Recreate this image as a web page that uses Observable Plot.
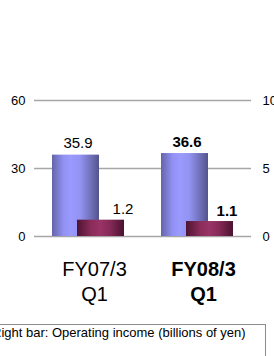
<!DOCTYPE html>
<html>
<head>
<meta charset="utf-8">
<script src="https://cdn.jsdelivr.net/npm/d3@7"></script>
<script src="https://cdn.jsdelivr.net/npm/@observablehq/plot@0.6"></script>
<style>
  html, body { margin: 0; padding: 0; background: #fff; overflow: hidden; width: 274px; height: 356px; }
  body { position: relative; font-family: "Liberation Sans", Arial, sans-serif; }
  #legend {
    position: absolute; left: -19px; top: 324px; width: 285px; height: 60px;
    box-sizing: border-box; border: 1px solid #8c8c8c; padding: 0 0 0 10px;
    font-size: 13px; line-height: 15px; color: #000; white-space: nowrap;
  }
</style>
</head>
<body>
<div id="chart"></div>
<div id="legend">Right bar: Operating income (billions of yen)</div>
<script>
const categories = ["FY07/3 Q1", "FY08/3 Q1"];
const fiscalYears = ["FY07/3", "FY08/3"];
const quarters = ["Q1", "Q1"];
const netSales = [35.9, 36.6];          // left bar, left axis
const operatingIncome = [1.2, 1.1];     // right bar, right axis
const emphasized = [false, true];
const leftTicks = [0, 30, 60];
const rightTicks = [0, 5, 10];

const ratio = leftTicks[leftTicks.length - 1] / rightTicks[rightTicks.length - 1];
const rows = categories.map((c, i) => ({
  c, fy: fiscalYears[i], q: quarters[i], sales: netSales[i], op: operatingIncome[i], bold: emphasized[i]
}));

const font = "Liberation Sans, Arial, sans-serif";
const labelMarks = [];
for (const bold of [false, true]) {
  const f = d => d.bold === bold;
  const w = bold ? "bold" : "normal";
  labelMarks.push(
    Plot.text(rows, {filter: f, x: "c", y: "sales", text: d => d.sales.toFixed(1), dx: 2, dy: -7,
      lineAnchor: "bottom", fontSize: 15, fontWeight: w, fill: "#000"}),
    Plot.text(rows, {filter: f, x: "c", y: d => d.op * ratio, text: d => d.op.toFixed(1),
      dx: bold ? 42 : 47, dy: -6, lineAnchor: "bottom", fontSize: 15, fontWeight: w, fill: "#000"}),
    Plot.text(rows, {filter: f, x: "c", text: "fy", frameAnchor: "bottom", dx: 18.5, dy: 39,
      lineAnchor: "bottom", fontSize: 20, fontWeight: w, fill: "#000"}),
    Plot.text(rows, {filter: f, x: "c", text: "q", frameAnchor: "bottom", dx: 18.5, dy: 64,
      lineAnchor: "bottom", fontSize: 20, fontWeight: w, fill: "#000"})
  );
}

const chart = Plot.plot({
  width: 274,
  height: 318,
  marginTop: 100,
  marginBottom: 82,
  marginLeft: 34,
  marginRight: 23,
  style: {fontFamily: font, fontSize: "13px", color: "#000", background: "#fff", overflow: "visible"},
  x: {type: "band", domain: categories, range: [52, 209], paddingInner: 0.566, paddingOuter: 0, axis: null},
  y: {domain: [0, 60], axis: null},
  marks: [
    Plot.ruleY(leftTicks, {stroke: "#a6a6a6", strokeWidth: 1.5}),
    Plot.barY(rows, {x: "c", y: "sales", fill: "url(#gBlue)"}),
    Plot.barY(rows, {x: "c", y: d => d.op * ratio, dx: 25, fill: "url(#gRed)"}),
    Plot.axisY({anchor: "left", ticks: leftTicks, tickSize: 0, tickPadding: 9, label: null, fontSize: 13}),
    Plot.axisY({anchor: "right", ticks: rightTicks.map(v => v * ratio), tickFormat: d => d / ratio,
      tickSize: 0, tickPadding: 11, label: null, fontSize: 13}),
    ...labelMarks
  ]
});

const svg = d3.select(chart);
const defs = svg.insert("defs", ":first-child");
function grad(id, stops) {
  const g = defs.append("linearGradient").attr("id", id)
    .attr("x1", "0%").attr("x2", "100%").attr("y1", "0%").attr("y2", "0%");
  for (const [o, c] of stops) g.append("stop").attr("offset", o).attr("stop-color", c);
}
grad("gBlue", [["0%", "#6464aa"], ["25%", "#9292f4"], ["40%", "#9a9aff"], ["60%", "#9393f2"], ["85%", "#6c6cb4"], ["100%", "#53538c"]]);
grad("gRed", [["0%", "#4e1432"], ["30%", "#8a2c5a"], ["50%", "#993366"], ["70%", "#862a57"], ["100%", "#4a1230"]]);

document.getElementById("chart").appendChild(chart);
</script>
</body>
</html>
